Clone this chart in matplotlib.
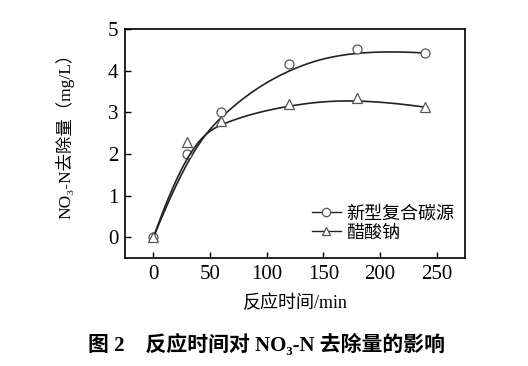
import matplotlib.pyplot as plt
import numpy as np

fam = ['Liberation Serif', 'Noto Sans CJK SC', 'DejaVu Sans']
plt.rcParams['font.family'] = fam

t = [0, 30, 60, 120, 180, 240]
new_src = [0, 2.0, 3.0, 4.15, 4.52, 4.42]
acetate = [0, 2.28, 2.78, 3.2, 3.35, 3.12]
labels = ['新型复合碳源', '醋酸钠']


def bspline(px, py, k=3, n=300):
    # clamped uniform B-spline using the data points as control points
    px = np.asarray(px, float)
    py = np.asarray(py, float)
    m = len(px)
    inner = np.linspace(0, 1, m - k + 1)
    knots = np.concatenate([[0] * k, inner, [1] * k])
    u = np.linspace(0, 1, n)
    u[-1] -= 1e-9

    def basis(i, d, u):
        if d == 0:
            return ((knots[i] <= u) & (u < knots[i + 1])).astype(float)
        out = np.zeros_like(u)
        den = knots[i + d] - knots[i]
        if den > 0:
            out += (u - knots[i]) / den * basis(i, d - 1, u)
        den = knots[i + d + 1] - knots[i + 1]
        if den > 0:
            out += (knots[i + d + 1] - u) / den * basis(i + 1, d - 1, u)
        return out

    B = np.array([basis(i, k, u) for i in range(m)])
    return B.T @ px, B.T @ py


fig = plt.figure(figsize=(5.28, 3.66), dpi=100)
ax = fig.add_axes([0.237, 0.295, 0.644, 0.626])

for y, m, lab in [(new_src, 'o', labels[0]), (acetate, '^', labels[1])]:
    cx, cy = bspline(t, y)
    ax.plot(cx, cy, color='#222222', lw=1.2)
    ax.plot(t, y, ls='none', marker=m, ms=6.5, mfc='white', mec='#555555', mew=0.9)
    ax.plot([], [], color='#222222', lw=1.0, marker=m, ms=6, mfc='white',
            mec='#555555', mew=0.9, label=lab)

ax.set_xlim(-25, 275)
ax.set_ylim(-0.5, 5)
ax.set_xticks([0, 50, 100, 150, 200, 250])
ax.set_yticks([0, 1, 2, 3, 4, 5])
ax.tick_params(direction='in', length=4, width=1, labelsize=15, pad=5)
for s in ax.spines.values():
    s.set_linewidth(1.2)

ax.set_xlabel('反应时间/min', fontsize=13, labelpad=8)
ax.set_ylabel('NO₃-N去除量（mg/L）', fontsize=12.5)
ax.yaxis.set_label_coords(-0.15, 0.55)
ax.legend(loc='lower right', frameon=False, fontsize=13, handlelength=1.6,
          handletextpad=0.3, labelspacing=0.15, bbox_to_anchor=(1.015, 0.0))

fig.text(0.505, 0.042, '图 2    反应时间对 NO₃-N 去除量的影响', ha='center',
         fontsize=15, fontweight='bold')

fig.savefig('out.png', dpi=100)
